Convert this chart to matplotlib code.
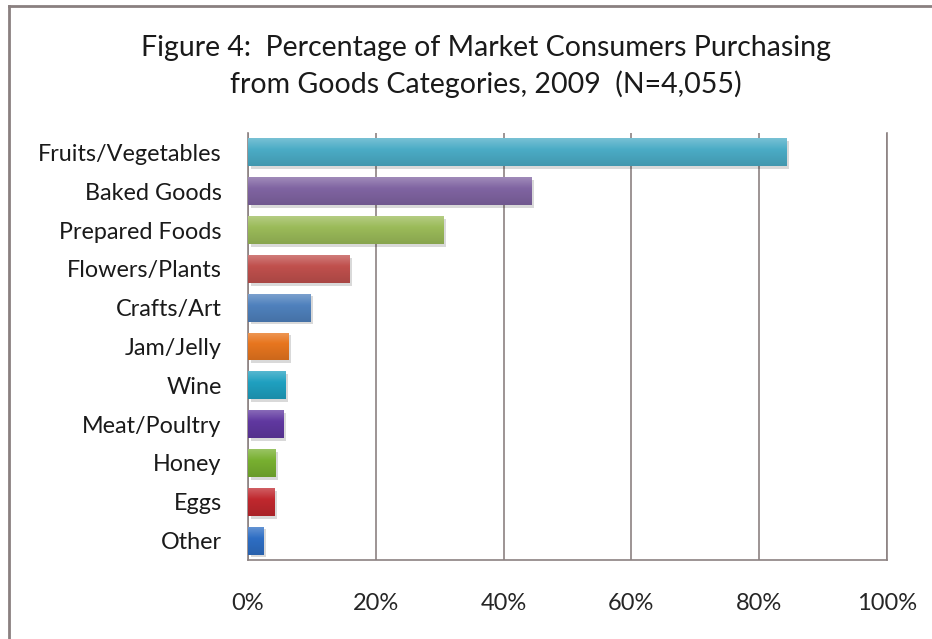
import numpy as np
import matplotlib
matplotlib.use("Agg")
import matplotlib.pyplot as plt
import matplotlib.patheffects as pe
from matplotlib.colors import to_rgb
from matplotlib.lines import Line2D

# data (percent of consumers)
categories = [
    "Fruits/Vegetables", "Baked Goods", "Prepared Foods", "Flowers/Plants",
    "Crafts/Art", "Jam/Jelly", "Wine", "Meat/Poultry", "Honey", "Eggs", "Other",
]
percents = [84.2, 44.3, 30.6, 15.9, 9.8, 6.3, 5.9, 5.5, 4.3, 4.1, 2.4]
bar_colors = [
    "#4bacc6", "#8064a2", "#9bbb59", "#c0504d", "#4f81bd",
    "#e8761f", "#1fa0c0", "#6038a0", "#78b030", "#c0282e", "#2e6ec4",
]
x_ticks = [0, 20, 40, 60, 80, 100]
title = ("Figure 4:  Percentage of Market Consumers Purchasing\n"
         "from Goods Categories, 2009  (N=4,055)")

FONT = "Lato"
GRID = "#8c8282"

fig = plt.figure(figsize=(9.32, 6.39), dpi=100)
fig.patch.set_facecolor("white")

# chart-area frame, only top and left edges are visible in the crop
fig.add_artist(Line2D([9 / 932, 9 / 932], [0, 1 - 6 / 639], transform=fig.transFigure,
                      color="#8a8080", lw=2.0))
fig.add_artist(Line2D([9 / 932, 1], [1 - 6 / 639, 1 - 6 / 639], transform=fig.transFigure,
                      color="#8a8080", lw=2.0))

ax = fig.add_axes([248 / 932, 1 - 560 / 639, (887 - 248) / 932, (560 - 133) / 639])

y = np.arange(len(categories))
bars = ax.barh(y, percents, height=0.72, color=bar_colors, zorder=3)

# soft vertical gradient on each bar plus a light drop shadow
for bar, col in zip(bars, bar_colors):
    base = np.array(to_rgb(col))
    light = base + (1 - base) * 0.25
    dark = base * 0.88
    t = np.linspace(0, 1, 64)[:, None]
    # row 0 = visual top of the bar: lighter there, darker toward the bottom
    grad = np.where(t < 0.4, light + (base - light) * (t / 0.4),
                    base + (dark - base) * ((t - 0.4) / 0.6))
    img = grad[:, None, :]
    x0, y0 = bar.get_x(), bar.get_y()
    w, h = bar.get_width(), bar.get_height()
    # y axis is inverted, so give the extent top-to-bottom
    im = ax.imshow(img, extent=(x0, x0 + w, y0 + h, y0), aspect="auto",
                   zorder=4, interpolation="bilinear")
    im.set_clip_path(bar)
    bar.set_path_effects([pe.SimplePatchShadow(offset=(2, -2), shadow_rgbFace="#000000",
                                               alpha=0.15), pe.Normal()])

ax.set_xlim(0, 100)
ax.set_ylim(len(categories) - 0.5, -0.5)
ax.set_xticks(x_ticks)
ax.set_xticklabels([f"{v}%" for v in x_ticks])
ax.set_yticks(y)
ax.set_yticklabels(categories)
ax.tick_params(axis="x", length=0, labelsize=17, colors="#262626", pad=24)
ax.tick_params(axis="y", length=0, labelsize=16.8, colors="#1a1a1a", pad=19)
for lab in ax.get_xticklabels() + ax.get_yticklabels():
    lab.set_fontfamily(FONT)

ax.xaxis.grid(True, color=GRID, lw=1.2, zorder=1)
ax.set_axisbelow(True)
for side in ["left", "bottom", "right"]:
    ax.spines[side].set_color(GRID)
    ax.spines[side].set_linewidth(1.2)
ax.spines["top"].set_visible(False)

fig.text(486 / 932, 1 - 66.5 / 639, title, ha="center", va="center",
         fontsize=20.5, family=FONT, color="#1a1a1a", linespacing=1.4)

fig.savefig("out.png", dpi=100)
